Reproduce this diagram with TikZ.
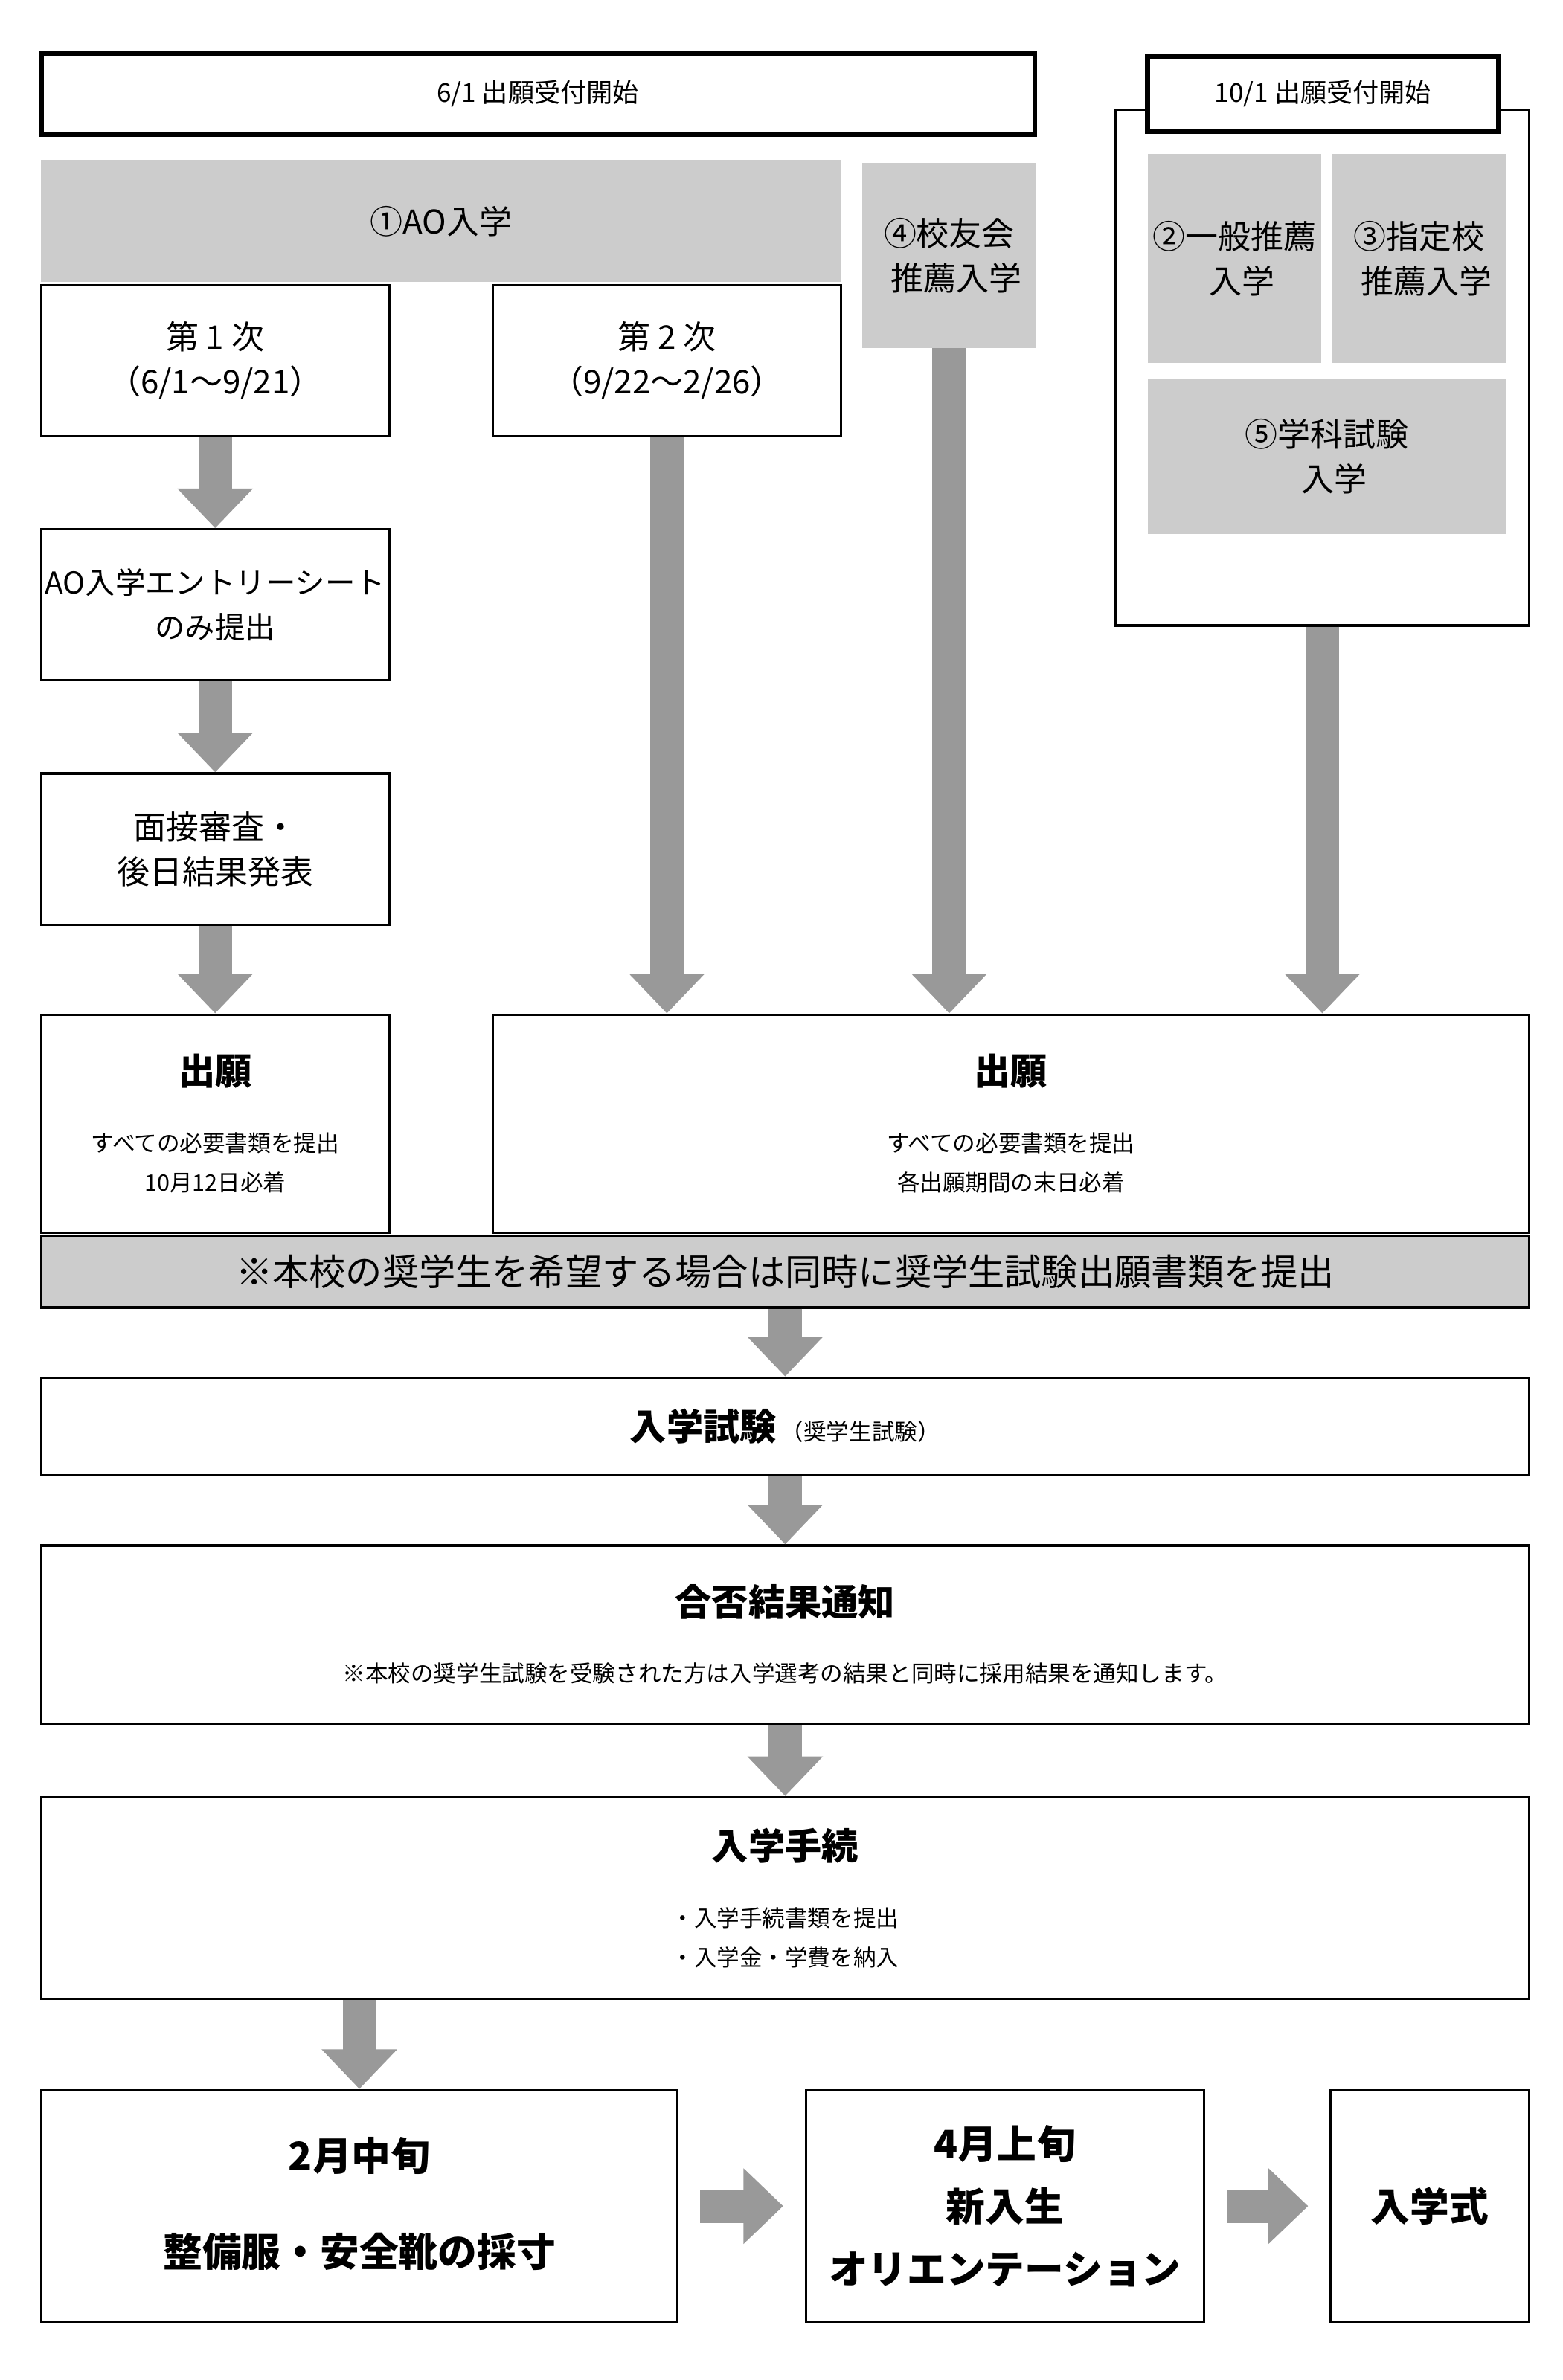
\documentclass[tikz,border=0pt]{standalone}
\usepackage{fontspec}
\setmainfont{Noto Sans CJK JP}
\usetikzlibrary{arrows.meta,positioning}
\def\pu{0.02051cm}
\definecolor{boxgray}{HTML}{CCCCCC}
\definecolor{arrowgray}{HTML}{999999}
\tikzset{
  wbox/.style={draw, line width=0.9pt, fill=white, inner sep=0pt, align=center},
  tbox/.style={draw, line width=1.8pt, fill=white, inner sep=0pt, font=\fontsize{10}{12}\selectfont},
  gbox/.style={fill=boxgray, inner sep=0pt, align=center, font=\fontsize{12.5}{17}\selectfont},
  bigarrow/.style={arrowgray, line width=22*\pu, -{Triangle[width=48*\pu, length=26*\pu]}},
  ttl/.style={font=\bfseries\fontsize{14}{16}\selectfont},
  sml/.style={font=\fontsize{8.7}{15}\selectfont, align=center},
}
\begin{document}
\begin{tikzpicture}[x=\pu, y=-\pu]
  \useasboundingbox[fill=white] (0,0) rectangle (1024,1560);

  % top headers
  \node[tbox, minimum width=651*\pu, minimum height=53*\pu] (h1) at (352.5,61.5) {6/1 出願受付開始};
  \node[wbox, minimum width=271*\pu, minimum height=338*\pu] (outer) at (866.5,241) {};
  \node[tbox, minimum width=230*\pu, minimum height=49*\pu] (h2) at (867,61.5) {10/1 出願受付開始};

  % gray entry types
  \node[gbox, minimum width=524*\pu, minimum height=80*\pu] (ao) at (289,145) {①AO入学};
  \node[gbox, minimum width=114*\pu, minimum height=121*\pu] (kouyu) at (622,167.5) {④校友会\\\ \ 推薦入学};
  \node[gbox, minimum width=114*\pu, minimum height=137*\pu] (ippan) at (809,169.5) {②一般推薦\\\ \ 入学};
  \node[gbox, minimum width=114*\pu, minimum height=137*\pu] (shitei) at (930,169.5) {③指定校\\\ \ 推薦入学};
  \node[gbox, minimum width=235*\pu, minimum height=102*\pu] (gakka) at (869.5,299) {⑤学科試験\\\ \ 入学};

  % AO route
  \node[wbox, gbox, fill=white, minimum width=228*\pu, minimum height=99*\pu] (ji1) at (141,236.5) {第 1 次\\（6/1〜9/21）};
  \node[wbox, gbox, fill=white, minimum width=228*\pu, minimum height=99*\pu] (ji2) at (437,236.5) {第 2 次\\（9/22〜2/26）};
  \node[wbox, gbox, fill=white, minimum width=228*\pu, minimum height=99*\pu, font=\fontsize{11.5}{17}\selectfont] (entry) at (141,396.5) {AO入学エントリーシート\\のみ提出};
  \node[wbox, gbox, fill=white, minimum width=228*\pu, minimum height=99*\pu] (mensetsu) at (141,556.5) {面接審査・\\後日結果発表};

  % applications
  \node[wbox, minimum width=228*\pu, minimum height=143*\pu] (app1) at (141,736.5) {};
  \node[ttl] at (141,702) {出願};
  \node[sml] at (141,762) {すべての必要書類を提出\\10月12日必着};
  \node[wbox, minimum width=679*\pu, minimum height=143*\pu] (app2) at (662.5,736.5) {};
  \node[ttl] at (662.5,702) {出願};
  \node[sml] at (662.5,762) {すべての必要書類を提出\\各出願期間の末日必着};
  \node[wbox, fill=boxgray, minimum width=975*\pu, minimum height=47*\pu, font=\fontsize{14}{16}\selectfont] (note) at (514.5,833.5) {※本校の奨学生を希望する場合は同時に奨学生試験出願書類を提出};

  % exam and results
  \node[wbox, minimum width=975*\pu, minimum height=64*\pu] (exam) at (514.5,935) {{\bfseries\fontsize{14}{16}\selectfont 入学試験}\,{\fontsize{8.7}{10}\selectfont（奨学生試験）}};
  \node[wbox, minimum width=975*\pu, minimum height=117*\pu] (result) at (514.5,1071.5) {};
  \node[ttl] at (514.5,1050) {合否結果通知};
  \node[sml] at (514.5,1097) {※本校の奨学生試験を受験された方は入学選考の結果と同時に採用結果を通知します。};
  \node[wbox, minimum width=975*\pu, minimum height=132*\pu] (proc) at (514.5,1244) {};
  \node[ttl] at (514.5,1210) {入学手続};
  \node[sml, align=left] at (514.5,1270) {・入学手続書類を提出\\・入学金・学費を納入};

  % final steps
  \node[wbox, minimum width=417*\pu, minimum height=152*\pu] (feb) at (235.5,1446) {};
  \node[ttl, font=\bfseries\fontsize{15}{17}\selectfont] at (235.5,1413) {2月中旬};
  \node[ttl, font=\bfseries\fontsize{15}{17}\selectfont] at (235.5,1476) {整備服・安全靴の採寸};
  \node[wbox, minimum width=261*\pu, minimum height=152*\pu, font=\bfseries\fontsize{15}{24}\selectfont] (apr) at (658.5,1446) {4月上旬\\新入生\\オリエンテーション};
  \node[wbox, minimum width=130*\pu, minimum height=152*\pu, font=\bfseries\fontsize{15}{17}\selectfont] (ceremony) at (937,1446) {入学式};

  % arrows
  \draw[bigarrow] (ji1.south) -- (entry.north);
  \draw[bigarrow] (entry.south) -- (mensetsu.north);
  \draw[bigarrow] (mensetsu.south) -- (app1.north);
  \draw[bigarrow] (ji2.south) -- (ji2.south |- app2.north);
  \draw[bigarrow] (kouyu.south) -- (kouyu.south |- app2.north);
  \draw[bigarrow] (outer.south) -- (outer.south |- app2.north);
  \draw[bigarrow] (note.south) -- (exam.north);
  \draw[bigarrow] (exam.south) -- (result.north);
  \draw[bigarrow] (result.south) -- (proc.north);
  \draw[bigarrow] (proc.south -| feb.north) -- (feb.north);
  \draw[bigarrow] ([xshift=14*\pu]feb.east) -- ([xshift=-14*\pu]apr.west);
  \draw[bigarrow] ([xshift=14*\pu]apr.east) -- ([xshift=-14*\pu]ceremony.west);
\end{tikzpicture}
\end{document}
